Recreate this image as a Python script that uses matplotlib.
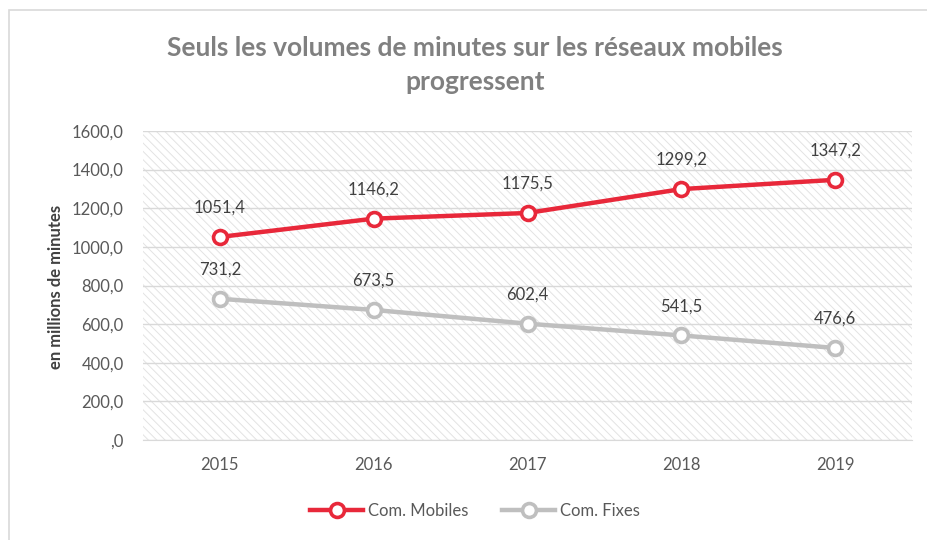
import matplotlib.pyplot as plt
from matplotlib.patches import Rectangle

# data
annees = ["2015", "2016", "2017", "2018", "2019"]
mobiles = [1051.4, 1146.2, 1175.5, 1299.2, 1347.2]
fixes = [731.2, 673.5, 602.4, 541.5, 476.6]
yticks = [0, 200, 400, 600, 800, 1000, 1200, 1400, 1600]

plt.rcParams['font.family'] = ['Lato', 'DejaVu Sans']
plt.rcParams['hatch.linewidth'] = 0.7
plt.rcParams['hatch.color'] = "#e3e3e3"

rouge = "#E8283A"
gris = "#BFBFBF"
texte = "#595959"

fig = plt.figure(figsize=(9.28, 5.4), dpi=100)
ax = fig.add_axes([143/928, 1-440/540, (912-143)/928, (440-131)/540])

# hatched background of the plot area
ax.add_patch(Rectangle((0, 0), 1, 1, transform=ax.transAxes, facecolor="white",
                       edgecolor="#e3e3e3", hatch="\\\\\\\\", linewidth=0, zorder=0))

x = list(range(len(annees)))
ax.plot(x, mobiles, color=rouge, lw=3.2, marker="o", ms=10, mfc="white",
        mec=rouge, mew=2.6, label="Com. Mobiles", zorder=4)
ax.plot(x, fixes, color=gris, lw=3.2, marker="o", ms=10, mfc="white",
        mec=gris, mew=2.6, label="Com. Fixes", zorder=4)

for xi, v in zip(x, mobiles):
    ax.annotate(f"{v:.1f}".replace(".", ","), (xi, v), xytext=(0, 21),
                textcoords="offset points", ha="center", va="center",
                fontsize=12, color="#404040")
for xi, v in zip(x, fixes):
    ax.annotate(f"{v:.1f}".replace(".", ","), (xi, v), xytext=(0, 21),
                textcoords="offset points", ha="center", va="center",
                fontsize=12, color="#404040")

ax.set_xlim(-0.5, 4.5)
ax.set_ylim(0, 1600)
ax.set_yticks(yticks)
ax.set_yticklabels([f"{t:.1f}".replace(".", ",") if t else ",0" for t in yticks])
ax.set_xticks(x)
ax.set_xticklabels(annees)
ax.tick_params(length=0, labelsize=12, labelcolor=texte)
ax.tick_params(axis="y", pad=14)
ax.tick_params(axis="x", pad=12)
ax.grid(axis="y", color="#d9d9d9", lw=1)
ax.set_axisbelow(True)
for s in ["top", "right", "left"]:
    ax.spines[s].set_visible(False)
ax.spines["bottom"].set_color("#d9d9d9")

fig.text(56/928, 1-287/540, "en millions de minutes", rotation=90, ha="center",
         va="center", fontsize=12, fontweight="bold", color="#404040")

fig.text(475/928, 1-65/540, "Seuls les volumes de minutes sur les réseaux mobiles\nprogressent",
         ha="center", va="center", fontsize=19, fontweight="bold", color="#808080",
         linespacing=1.45)

leg = fig.legend(loc="center", bbox_to_anchor=(475/928, 1-511/540), ncol=2,
                 frameon=False, fontsize=12, handlelength=3.2, columnspacing=2.0,
                 handletextpad=0.3)
for t in leg.get_texts():
    t.set_color(texte)

# border round the whole chart
fig.patches.append(Rectangle((9/928, -0.05), 1.1, 1-10/540+0.05, transform=fig.transFigure,
                             fill=False, edgecolor="#d9d9d9", lw=1.2))

fig.savefig("out.png", dpi=100)
